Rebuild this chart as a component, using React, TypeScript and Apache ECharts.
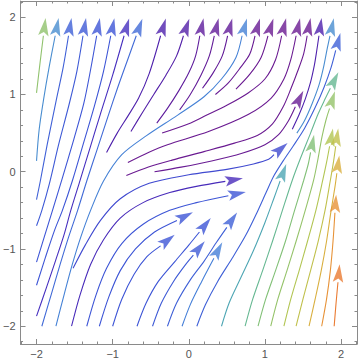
import React, { useEffect, useRef } from "react";
import * as echarts from "echarts";

type Pt = [number, number];

// Tick values (labels at integers)
const axisTickValues = [-2, -1, 0, 1, 2];

// Streamlines entering from the left edge / far bottom-left, ending at the top arrows
const leftLines: Pt[][] = [
  [[-2.0, 1.02], [-1.955, 1.4], [-1.91, 1.76]],
  [[-2.0, 0.14], [-1.965, 0.55], [-1.905, 0.95], [-1.835, 1.35], [-1.755, 1.76]],
  [[-2.0, -0.36], [-1.95, -0.12], [-1.86, 0.35], [-1.74, 0.93], [-1.65, 1.35], [-1.58, 1.76]],
  [[-2.0, -0.7], [-1.93, -0.5], [-1.83, -0.15], [-1.71, 0.35], [-1.57, 0.88], [-1.47, 1.3], [-1.39, 1.76]],
  [[-2.0, -1.17], [-1.9, -0.85], [-1.79, -0.5], [-1.66, -0.08], [-1.51, 0.42], [-1.38, 0.88], [-1.29, 1.32], [-1.21, 1.76]],
  [[-2.0, -1.47], [-1.88, -1.1], [-1.76, -0.75], [-1.66, -0.5], [-1.53, -0.12], [-1.38, 0.38], [-1.24, 0.85], [-1.12, 1.3], [-1.025, 1.76]],
  [[-2.0, -1.87], [-1.87, -1.5], [-1.75, -1.15], [-1.64, -0.82], [-1.55, -0.5], [-1.44, -0.15], [-1.3, 0.3], [-1.16, 0.75], [-1.0, 1.25], [-0.85, 1.76]],
  [[-1.93, -2.0], [-1.81, -1.6], [-1.69, -1.2], [-1.58, -0.85], [-1.46, -0.5], [-1.34, -0.12], [-1.2, 0.3], [-1.06, 0.72], [-0.93, 1.1], [-0.81, 1.43], [-0.69, 1.76]],
];
const leftSpeeds = [0.69, 0.44, 0.34, 0.33, 0.32, 0.32, 0.24, 0.36];

// Upper (purple) family ending at the top arrows and the interior purple arrow
const upperLines: Pt[][] = [
  [[-1.08, 0.25], [-0.94, 0.5], [-0.8, 0.72], [-0.66, 0.95], [-0.52, 1.27], [-0.37, 1.76]],
  [[-1.745, -2.0], [-1.64, -1.6], [-1.53, -1.2], [-1.42, -0.85], [-1.29, -0.5], [-1.12, -0.12], [-0.88, 0.22], [-0.55, 0.47], [-0.15, 0.73], [0.2, 0.97], [0.43, 1.2], [0.62, 1.48], [0.7, 1.76]],
  [[-0.76, 0.52], [-0.6, 0.78], [-0.46, 1.0], [-0.3, 1.25], [-0.16, 1.5], [-0.07, 1.76]],
  [[-0.42, 0.63], [-0.28, 0.82], [-0.13, 1.05], [0.0, 1.28], [0.09, 1.5], [0.145, 1.76]],
  [[-0.12, 0.8], [0.02, 1.0], [0.16, 1.25], [0.27, 1.5], [0.335, 1.76]],
  [[0.18, 1.08], [0.32, 1.28], [0.44, 1.5], [0.51, 1.76]],
  [[0.35, 1.0], [0.52, 1.15], [0.68, 1.35], [0.8, 1.52], [0.87, 1.76]],
  [[0.62, 1.07], [0.8, 1.26], [0.95, 1.48], [1.04, 1.76]],
  [[-0.35, 0.5], [0.0, 0.62], [0.21, 0.72], [0.5, 0.86], [0.78, 1.02], [1.0, 1.2], [1.14, 1.45], [1.22, 1.76]],
  [[-0.8, 0.12], [-0.53, 0.25], [-0.28, 0.35], [0.26, 0.52], [0.78, 0.74], [1.08, 0.95], [1.25, 1.2], [1.34, 1.45], [1.41, 1.76]],
  [[-0.82, -0.05], [-0.53, 0.06], [-0.22, 0.15], [0.2, 0.26], [0.6, 0.37], [0.9, 0.47], [1.1, 0.62], [1.24, 0.84], [1.34, 1.07], [1.43, 1.3], [1.51, 1.53], [1.555, 1.76]],
  [[-0.45, 0.0], [-0.1, 0.06], [0.3, 0.14], [0.7, 0.24], [1.0, 0.35], [1.18, 0.48], [1.31, 0.66], [1.4, 0.84]],
  [[1.36, 0.55], [1.45, 0.74], [1.53, 0.94], [1.6, 1.16], [1.65, 1.38], [1.68, 1.56], [1.71, 1.76]],
  [[1.42, 0.5], [1.52, 0.66], [1.62, 0.88], [1.71, 1.12], [1.77, 1.35], [1.82, 1.6], [1.855, 1.76]],
];
const upperSpeeds = [0.16, 0.41, 0.14, 0.08, 0.06, 0.06, 0.03, 0.02, 0.02, 0.02, 0.02, 0.03, 0.16, 0.44];

// Central family ending at the interior arrows
const middleLines: Pt[][] = [
  [[-1.52, -1.25], [-1.36, -0.95], [-1.16, -0.63], [-0.9, -0.35], [-0.52, -0.15], [0.0, -0.04], [0.5, 0.03], [0.85, 0.1], [1.05, 0.16], [1.12, 0.22]],
  [[-1.54, -2.0], [-1.43, -1.6], [-1.29, -1.2], [-1.12, -0.88], [-0.9, -0.6], [-0.6, -0.4], [-0.25, -0.27], [0.1, -0.19], [0.48, -0.125]],
  [[-1.34, -2.0], [-1.22, -1.6], [-1.08, -1.25], [-0.88, -0.93], [-0.6, -0.68], [-0.25, -0.5], [0.1, -0.4], [0.52, -0.31]],
  [[-1.175, -2.0], [-1.05, -1.62], [-0.9, -1.28], [-0.7, -1.0], [-0.45, -0.78], [-0.155, -0.63]],
  [[-1.0, -2.0], [-0.88, -1.65], [-0.72, -1.33], [-0.55, -1.1], [-0.37, -0.96]],
  [[-0.68, -2.0], [-0.56, -1.7], [-0.4, -1.42], [-0.18, -1.16], [0.0, -0.95], [0.14, -0.78]],
  [[-0.476, -2.0], [-0.36, -1.7], [-0.2, -1.42], [-0.04, -1.2], [0.06, -1.08]],
  [[-0.28, -2.0], [-0.16, -1.7], [0.02, -1.4], [0.2, -1.16], [0.36, -0.92], [0.5, -0.72]],
  [[-0.088, -2.0], [0.02, -1.72], [0.17, -1.42], [0.33, -1.12]],
];
const middleSpeeds = [0.3, 0.22, 0.32, 0.32, 0.32, 0.32, 0.33, 0.34, 0.4];

// Right family (bottom edge to the right-hand arrows)
const rightLines: Pt[][] = [
  [[0.106, -2.0], [0.22, -1.72], [0.38, -1.42], [0.57, -1.12], [0.75, -0.82], [0.9, -0.52], [1.02, -0.26], [1.12, -0.05], [1.24, 0.14], [1.37, 0.33], [1.52, 0.56], [1.66, 0.83], [1.78, 1.1], [1.87, 1.35], [1.93, 1.57]],
  [[0.43, -2.0], [0.53, -1.7], [0.68, -1.38], [0.85, -1.02], [1.0, -0.66], [1.12, -0.34], [1.2, -0.12]],
  [[0.74, -2.0], [0.84, -1.65], [0.97, -1.28], [1.1, -0.9], [1.23, -0.5], [1.36, -0.11], [1.47, 0.18], [1.6, 0.5], [1.7, 0.75], [1.79, 0.94], [1.86, 1.08]],
  [[0.91, -2.0], [1.01, -1.65], [1.14, -1.28], [1.27, -0.9], [1.39, -0.5], [1.51, -0.11], [1.57, 0.1], [1.6, 0.25]],
  [[1.077, -2.0], [1.17, -1.65], [1.29, -1.28], [1.41, -0.9], [1.53, -0.5], [1.64, -0.11], [1.7, 0.18], [1.75, 0.45], [1.8, 0.66], [1.85, 0.82]],
  [[1.25, -2.0], [1.34, -1.65], [1.45, -1.28], [1.56, -0.9], [1.67, -0.5], [1.76, -0.11], [1.81, 0.12], [1.85, 0.33]],
  [[1.41, -2.0], [1.5, -1.65], [1.6, -1.28], [1.7, -0.9], [1.79, -0.5], [1.86, -0.11], [1.9, 0.12], [1.93, 0.33]],
  [[1.58, -2.0], [1.66, -1.65], [1.74, -1.28], [1.81, -0.9], [1.87, -0.5], [1.92, -0.2], [1.945, -0.02]],
  [[1.746, -2.0], [1.81, -1.65], [1.86, -1.28], [1.895, -0.9], [1.92, -0.53]],
  [[1.91, -2.0], [1.935, -1.7], [1.96, -1.43]],
];
const rightSpeeds = [0.34, 0.52, 0.6, 0.66, 0.7, 0.76, 0.79, 0.86, 0.93, 0.98];

// ---- styling ----
const paletteStops: [number, string][] = [
  [0.0, "#6e1a8e"],
  [0.1, "#5a1c9f"],
  [0.18, "#4a22b0"],
  [0.26, "#4533c4"],
  [0.32, "#3d55d6"],
  [0.4, "#457fd8"],
  [0.46, "#4b94cc"],
  [0.52, "#4ea6b4"],
  [0.58, "#5db49c"],
  [0.64, "#79bf7e"],
  [0.7, "#95c36a"],
  [0.76, "#b2c553"],
  [0.82, "#cdbb45"],
  [0.88, "#dfa93c"],
  [0.94, "#e98d36"],
  [1.0, "#eb7230"],
];

function hexToRgb(h: string): number[] {
  const v = parseInt(h.slice(1), 16);
  return [(v >> 16) & 255, (v >> 8) & 255, v & 255];
}

function colorFor(s: number): string {
  const t = Math.max(0, Math.min(1, s));
  for (let i = 1; i < paletteStops.length; i++) {
    const [s1, c1] = paletteStops[i];
    const [s0, c0] = paletteStops[i - 1];
    if (t <= s1) {
      const f = (t - s0) / (s1 - s0);
      const a = hexToRgb(c0);
      const b = hexToRgb(c1);
      const m = a.map((v, k) => Math.round(v + (b[k] - v) * f));
      return `rgb(${m[0]},${m[1]},${m[2]})`;
    }
  }
  return paletteStops[paletteStops.length - 1][1];
}

const UNIT_PX = 77.2;
const ARROW_LEN = 18;
const ARROW_W = 10.5;
const FRAME = "#8a8a8a";
const LABEL = "#555555";
const FONT = "'Liberation Sans', Arial, sans-serif";

function fmt(v: number): string {
  if (Math.abs(v) < 1e-9) return "0";
  return v < 0 ? "\u2212" + Math.abs(v) : String(v);
}

export default function App() {
  const ref = useRef<HTMLDivElement>(null);

  useEffect(() => {
    document.body.style.margin = "0";
    if (!ref.current) return;
    const chart = echarts.init(ref.current, undefined, { renderer: "svg" });

    const groups: [Pt[][], number[]][] = [
      [leftLines, leftSpeeds],
      [upperLines, upperSpeeds],
      [middleLines, middleSpeeds],
      [rightLines, rightSpeeds],
    ];

    const series: any[] = [];
    const arrows: any[] = [];
    groups.forEach(([lines, speeds]) => {
      lines.forEach((pts, i) => {
        const color = colorFor(speeds[i]);
        series.push({
          type: "line",
          data: pts,
          xAxisIndex: 0,
          yAxisIndex: 0,
          showSymbol: false,
          symbol: "none",
          smooth: 0.3,
          silent: true,
          z: 2,
          lineStyle: { width: 1.1, color },
        });
        const [x1, y1] = pts[pts.length - 2];
        const [x2, y2] = pts[pts.length - 1];
        const dx = x2 - x1;
        const dy = y2 - y1;
        const len = Math.hypot(dx, dy);
        const ux = dx / len;
        const uy = dy / len;
        const half = ARROW_LEN / 2 / UNIT_PX;
        arrows.push({
          value: [x2 + ux * half, y2 + uy * half],
          symbolRotate: (Math.atan2(uy, ux) * 180) / Math.PI - 90,
          itemStyle: { color },
        });
      });
    });

    series.push({
      type: "scatter",
      data: arrows,
      xAxisIndex: 0,
      yAxisIndex: 0,
      symbol: "path://M5 0 L10 18 L5 14.2 L0 18 Z",
      symbolSize: [ARROW_W, ARROW_LEN],
      silent: true,
      z: 3,
    });

    const baseAxis = (pos: string, labels: boolean, min: number, max: number) => ({
      type: "value",
      min,
      max,
      position: pos,
      axisLine: { show: true, onZero: false, lineStyle: { color: FRAME, width: 1 } },
      axisTick: { show: true, inside: true, length: 5, lineStyle: { color: FRAME } },
      minorTick: { show: true, splitNumber: 5, length: 2.5, lineStyle: { color: FRAME } },
      axisLabel: {
        show: labels,
        showMinLabel: false,
        showMaxLabel: false,
        color: LABEL,
        fontSize: 11,
        fontFamily: FONT,
        margin: pos === "bottom" ? 4 : 5,
        formatter: (v: number) => (axisTickValues.includes(Math.round(v * 1000) / 1000) ? fmt(v) : ""),
      },
      splitLine: { show: false },
      minorSplitLine: { show: false },
    });

    chart.setOption({
      animation: false,
      backgroundColor: "#ffffff",
      grid: { left: 16, right: 3, top: 1, bottom: 17, containLabel: false },
      xAxis: [baseAxis("bottom", true, -2.21, 2.21), baseAxis("top", false, -2.21, 2.21)],
      yAxis: [baseAxis("left", true, -2.23, 2.21), baseAxis("right", false, -2.23, 2.21)],
      series,
    });

    return () => {
      chart.dispose();
    };
  }, []);

  return <div ref={ref} style={{ width: 360, height: 361 }} />;
}
